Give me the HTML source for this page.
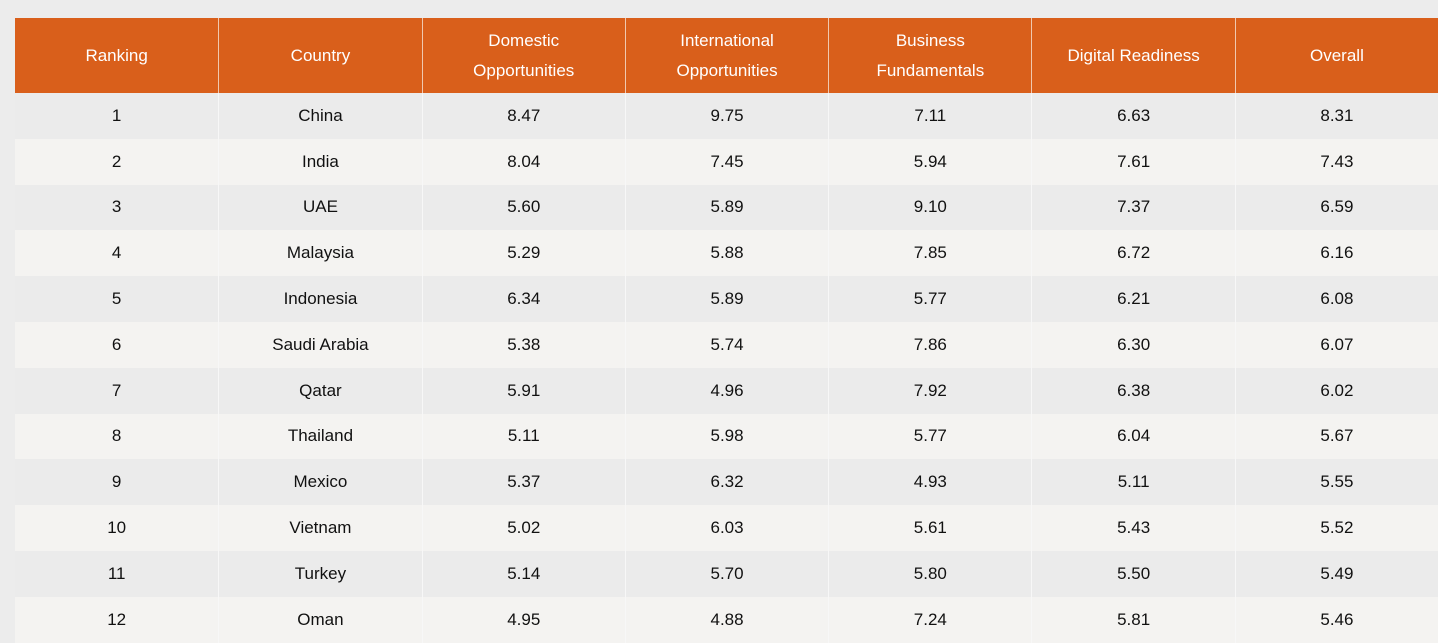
<!DOCTYPE html>
<html><head><style>
body{margin:0;width:1438px;height:635px;overflow:hidden;background:#ececec;font-family:"Liberation Sans",sans-serif;}
.r{position:absolute;left:15px;width:1423px;display:flex;}
.c{flex:0 0 203.3px;box-sizing:border-box;display:flex;align-items:center;justify-content:center;text-align:center;font-size:17px;color:#111;border-left:1px solid #f7f7f7;}
.c:first-child{border-left:none;}
.h .c{background:#d95f1b;color:#fff;line-height:30px;border-left-color:#f0c8b0;height:75px;}
.o .c{background:#ebebeb;height:45.8px;}
.e .c{background:#f4f3f1;height:45.8px;}
</style></head><body>
<div class="r h" style="top:18px"><div class="c">Ranking</div><div class="c">Country</div><div class="c">Domestic<br>Opportunities</div><div class="c">International<br>Opportunities</div><div class="c">Business<br>Fundamentals</div><div class="c">Digital Readiness</div><div class="c">Overall</div></div>
<div class="r o" style="top:93px"><div class="c">1</div><div class="c">China</div><div class="c">8.47</div><div class="c">9.75</div><div class="c">7.11</div><div class="c">6.63</div><div class="c">8.31</div></div>
<div class="r e" style="top:138.8px"><div class="c">2</div><div class="c">India</div><div class="c">8.04</div><div class="c">7.45</div><div class="c">5.94</div><div class="c">7.61</div><div class="c">7.43</div></div>
<div class="r o" style="top:184.6px"><div class="c">3</div><div class="c">UAE</div><div class="c">5.60</div><div class="c">5.89</div><div class="c">9.10</div><div class="c">7.37</div><div class="c">6.59</div></div>
<div class="r e" style="top:230.4px"><div class="c">4</div><div class="c">Malaysia</div><div class="c">5.29</div><div class="c">5.88</div><div class="c">7.85</div><div class="c">6.72</div><div class="c">6.16</div></div>
<div class="r o" style="top:276.2px"><div class="c">5</div><div class="c">Indonesia</div><div class="c">6.34</div><div class="c">5.89</div><div class="c">5.77</div><div class="c">6.21</div><div class="c">6.08</div></div>
<div class="r e" style="top:322px"><div class="c">6</div><div class="c">Saudi Arabia</div><div class="c">5.38</div><div class="c">5.74</div><div class="c">7.86</div><div class="c">6.30</div><div class="c">6.07</div></div>
<div class="r o" style="top:367.8px"><div class="c">7</div><div class="c">Qatar</div><div class="c">5.91</div><div class="c">4.96</div><div class="c">7.92</div><div class="c">6.38</div><div class="c">6.02</div></div>
<div class="r e" style="top:413.6px"><div class="c">8</div><div class="c">Thailand</div><div class="c">5.11</div><div class="c">5.98</div><div class="c">5.77</div><div class="c">6.04</div><div class="c">5.67</div></div>
<div class="r o" style="top:459.4px"><div class="c">9</div><div class="c">Mexico</div><div class="c">5.37</div><div class="c">6.32</div><div class="c">4.93</div><div class="c">5.11</div><div class="c">5.55</div></div>
<div class="r e" style="top:505.2px"><div class="c">10</div><div class="c">Vietnam</div><div class="c">5.02</div><div class="c">6.03</div><div class="c">5.61</div><div class="c">5.43</div><div class="c">5.52</div></div>
<div class="r o" style="top:551px"><div class="c">11</div><div class="c">Turkey</div><div class="c">5.14</div><div class="c">5.70</div><div class="c">5.80</div><div class="c">5.50</div><div class="c">5.49</div></div>
<div class="r e" style="top:596.8px"><div class="c">12</div><div class="c">Oman</div><div class="c">4.95</div><div class="c">4.88</div><div class="c">7.24</div><div class="c">5.81</div><div class="c">5.46</div></div>
</body></html>
